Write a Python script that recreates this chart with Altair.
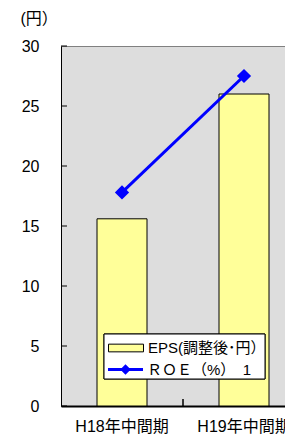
import altair as alt
import pandas as pd

categories = ["H18年中間期", "H19年中間期"]
eps = [15.6, 26.0]
roe = [17.8, 27.5]
eps_label = "EPS(調整後･円）"
roe_label = "ＲＯＥ（%）　1"
y_ticks = [0, 5, 10, 15, 20, 25, 30]

FONT = "Liberation Sans, Arial, Noto Sans CJK JP"

df = pd.DataFrame({"cat": categories, "eps": eps, "roe": roe,
                   "s1": [eps_label] * 2, "s2": [roe_label] * 2})
ticks_df = pd.DataFrame({"v": y_ticks})

W, H = 244, 360

x = alt.X("cat:N", sort=categories,
          scale=alt.Scale(paddingInner=0, paddingOuter=0),
          axis=alt.Axis(title=None, ticks=False, labelPadding=12, labelFontSize=16,
                        labelFont=FONT, labelColor="black", domainColor="black",
                        domainWidth=2, labelAngle=0))
yscale = alt.Scale(domain=[0, 30])

bars = alt.Chart(df).mark_bar(size=50, stroke="black", strokeWidth=1).encode(
    x=x,
    y=alt.Y("eps:Q", scale=yscale,
            axis=alt.Axis(values=y_ticks, ticks=False, grid=False, labelPadding=22,
                          labelFontSize=16, labelFont=FONT, labelColor="black",
                          domainColor="black", title="(円）", titleAngle=0,
                          titleX=-41, titleY=-28, titleAlign="left",
                          titleBaseline="middle", titleFont=FONT, titleFontSize=16,
                          titleFontWeight="normal", titleColor="black")),
    fill=alt.Fill("s1:N", scale=alt.Scale(domain=[eps_label], range=["#FFFF99"]),
                  legend=alt.Legend(title=None, orient="none", legendX=47, legendY=284,
                                    symbolType="M-1,-0.22H1V0.22H-1Z", symbolSize=1225,
                                    symbolStrokeColor="black", symbolStrokeWidth=1,
                                    labelFont=FONT, labelFontSize=15, labelColor="black",
                                    labelOffset=4, padding=0)),
)

line = alt.Chart(df).mark_line(color="#0000FF", strokeWidth=3, point=alt.OverlayMarkDef(
    shape="diamond", size=130, filled=True, fill="#0000FF")).encode(
    x=alt.X("cat:N", sort=categories),
    y=alt.Y("roe:Q", scale=yscale),
    stroke=alt.Stroke("s2:N", scale=alt.Scale(domain=[roe_label], range=["#0000FF"]),
                      legend=alt.Legend(title=None, orient="none", legendX=47, legendY=306,
                                        symbolType="M-1,-0.08H1V0.08H-1Z M0,-0.3L0.3,0L0,0.3L-0.3,0Z",
                                        symbolSize=1225, symbolFillColor="#0000FF",
                                        symbolStrokeWidth=0,
                                        labelFont=FONT, labelFontSize=15, labelColor="black",
                                        labelOffset=4, padding=0)),
)

legend_box = alt.Chart(df).mark_rect(fill="white", stroke="black", strokeWidth=1).encode(
    x=alt.value(43), x2=alt.value(204), y=alt.value(288), y2=alt.value(333))

yticks = alt.Chart(ticks_df).mark_rule(color="black").encode(
    x=alt.value(0), x2=alt.value(6), y=alt.Y("v:Q", scale=yscale))

xtick = alt.Chart(df).mark_rule(color="black").encode(
    x=alt.value(122), y=alt.value(H - 7), y2=alt.value(H))

chart = alt.layer(bars, legend_box, yticks, xtick, line).resolve_scale(
    fill="independent", stroke="independent"
).properties(
    width=W, height=H,
    autosize=alt.AutoSizeParams(type="none"),
    padding={"left": 53, "top": 38, "right": -20, "bottom": 30},
).configure_view(fill="#DDDDDD", stroke="#808080", strokeWidth=1)

chart.save("out.html", embed_options={"renderer": "svg", "actions": False})
